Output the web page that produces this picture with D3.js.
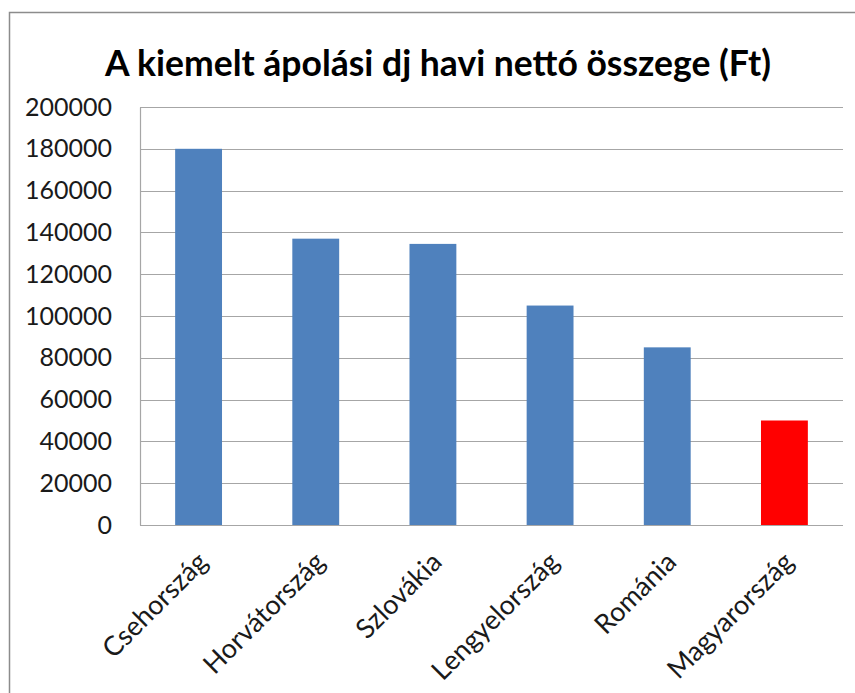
<!DOCTYPE html>
<html>
<head>
<meta charset="utf-8">
<script src="https://cdn.jsdelivr.net/npm/d3@7"></script>
<style>
  body { margin: 0; background: #fff; }
  svg { display: block; }
</style>
</head>
<body>
<div id="chart"></div>
<script>
// Chart data
const chartTitle = "A kiemelt ápolási dj havi nettó összege (Ft)";
const countries = ["Csehország", "Horvátország", "Szlovákia", "Lengyelország", "Románia", "Magyarország"];
const amounts = [180000, 137000, 134500, 105000, 85000, 50000];
const barColors = ["#4f81bd", "#4f81bd", "#4f81bd", "#4f81bd", "#4f81bd", "#ff0000"];
const yTickValues = [0, 20000, 40000, 60000, 80000, 100000, 120000, 140000, 160000, 180000, 200000];

const width = 855;
const height = 693;
const marginLeft = 140;
const marginRight = 12;
const marginTop = 107;
const marginBottom = 168;

const svg = d3.select("#chart")
  .append("svg")
  .attr("width", width)
  .attr("height", height)
  .attr("viewBox", [0, 0, width, height])
  .style("font-family", "Lato, 'Open Sans', sans-serif");

// outer frame
svg.append("rect")
  .attr("x", 9.5)
  .attr("y", 12.5)
  .attr("width", width)
  .attr("height", height)
  .attr("fill", "none")
  .attr("stroke", "#8c8c8c")
  .attr("stroke-width", 1.5);

const x = d3.scaleBand()
  .domain(countries)
  .range([marginLeft, width - marginRight])
  .paddingInner(0.6)
  .paddingOuter(0.3);

const y = d3.scaleLinear()
  .domain([0, 200000])
  .range([height - marginBottom, marginTop]);

// gridlines
svg.append("g")
  .selectAll("line")
  .data(yTickValues)
  .join("line")
  .attr("x1", marginLeft)
  .attr("x2", width - marginRight)
  .attr("y1", d => Math.round(y(d)) + 0.5)
  .attr("y2", d => Math.round(y(d)) + 0.5)
  .attr("stroke", "#a6a6a6")
  .attr("stroke-width", 1.2);

// bars
svg.append("g")
  .selectAll("rect")
  .data(amounts)
  .join("rect")
  .attr("x", (d, i) => x(countries[i]))
  .attr("y", d => y(d))
  .attr("width", x.bandwidth())
  .attr("height", d => y(0) - y(d))
  .attr("fill", (d, i) => barColors[i]);

// y axis
const yAxis = svg.append("g")
  .attr("transform", `translate(${marginLeft},0)`)
  .call(d3.axisLeft(y).tickValues(yTickValues).tickSize(0).tickPadding(28).tickFormat(d3.format("d")));
yAxis.select(".domain").attr("stroke", "#a6a6a6").attr("stroke-width", 1.2);
yAxis.selectAll(".tick text")
  .attr("fill", "#1a1a1a")
  .style("font-size", "25px")
  .style("font-family", "Lato, 'Open Sans', sans-serif");

// x axis, labels slanted 45 degrees
const xAxis = svg.append("g")
  .attr("transform", `translate(0,${height - marginBottom})`)
  .call(d3.axisBottom(x).tickSize(0).tickPadding(0));
xAxis.select(".domain").remove();
xAxis.selectAll(".tick text")
  .attr("fill", "#1a1a1a")
  .style("font-size", "27px")
  .style("font-family", "Lato, 'Open Sans', sans-serif")
  .attr("text-anchor", "end")
  .attr("dy", "0.35em")
  .attr("transform", "translate(4,32) rotate(-45)");

// title
svg.append("text")
  .attr("x", 438)
  .attr("y", 76)
  .attr("text-anchor", "middle")
  .attr("fill", "#000")
  .style("font-size", "35.5px")
  .style("font-weight", "bold")
  .text(chartTitle);
</script>
</body>
</html>
